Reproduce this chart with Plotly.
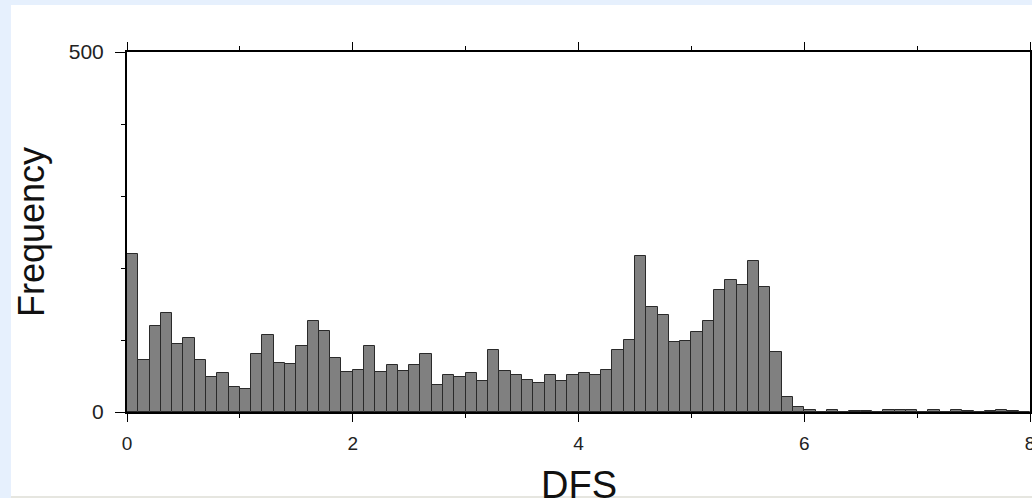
import numpy as np
import plotly.graph_objects as go

bin_width = 0.1
counts = [219, 72, 119, 137, 95, 103, 72, 49, 54, 35,
          32, 81, 107, 68, 66, 91, 127, 113, 75, 56,
          59, 92, 56, 65, 57, 65, 80, 38, 51, 49,
          54, 43, 86, 57, 52, 44, 40, 51, 43, 51,
          54, 51, 59, 86, 100, 216, 146, 135, 97, 99,
          111, 126, 170, 184, 177, 210, 173, 83, 21, 7,
          3, 0, 3, 0, 1, 1, 0, 3, 3, 3,
          0, 3, 0, 3, 1, 0, 1, 3, 1, 0]
bin_centers = [bin_width * (i + 0.5) for i in range(len(counts))]

x_tickvals = [0, 2, 4, 6, 8]
x_ticktext = ["0", "2", "4", "6", "8"]
y_tickvals = [0, 500]
y_ticktext = ["0", "500"]

FONT = "Liberation Sans, Arial, sans-serif"

fig = go.Figure()
fig.add_trace(go.Bar(
    x=bin_centers, y=counts, width=bin_width,
    marker=dict(color="#808080", line=dict(color="#2a2a2a", width=1)),
    showlegend=False,
))

fig.update_layout(
    width=1032, height=498,
    margin=dict(l=127, r=2, t=52, b=86, autoexpand=False),
    paper_bgcolor="#e6f0fd",
    plot_bgcolor="white",
    bargap=0,
    font=dict(family=FONT, color="#222"),
    shapes=[
        dict(type="rect", xref="paper", yref="paper", layer="below",
             x0=-0.1285, x1=1.02, y0=-0.2333, y1=1.1306,
             fillcolor="white", line=dict(width=0)),
        dict(type="rect", xref="paper", yref="paper", layer="below",
             x0=-0.1285, x1=1.02, y0=-0.26, y1=-0.2333,
             fillcolor="#e6e6e0", line=dict(width=0)),
    ],
    annotations=[
        dict(text="DFS", xref="paper", yref="paper", x=0.5, y=-0.202,
             xanchor="center", yanchor="middle", showarrow=False,
             font=dict(family=FONT, size=38, color="#111")),
        dict(text="Frequency", xref="paper", yref="paper", x=-0.1063, y=0.5,
             xanchor="center", yanchor="middle", showarrow=False, textangle=-90,
             font=dict(family=FONT, size=36, color="#111")),
    ],
)

fig.update_xaxes(
    range=[0, 8], showgrid=False, zeroline=False, automargin=False,
    showline=True, linecolor="black", linewidth=2, mirror="ticks",
    ticks="outside", ticklen=8, tickwidth=1, tickcolor="black",
    tickvals=x_tickvals, ticktext=x_ticktext,
    tickfont=dict(family=FONT, size=19, color="#222"),
    ticklabelstandoff=5, ticklabeloverflow="allow",
    minor=dict(dtick=1, ticks="outside", ticklen=4, tickcolor="black", showgrid=False),
)
fig.update_yaxes(
    range=[0, 500], showgrid=False, zeroline=False, automargin=False,
    showline=True, linecolor="black", linewidth=2, mirror=True,
    ticks="outside", ticklen=10, tickwidth=1, tickcolor="black",
    tickvals=y_tickvals, ticktext=y_ticktext,
    tickfont=dict(family=FONT, size=21, color="#222"),
    ticklabelstandoff=7,
    minor=dict(dtick=100, ticks="outside", ticklen=4, tickcolor="black", showgrid=False),
)

fig.write_html(
    "out.html",
    config={"displayModeBar": False},
    post_script="document.body.style.margin='0px';document.body.style.overflow='hidden';",
)
